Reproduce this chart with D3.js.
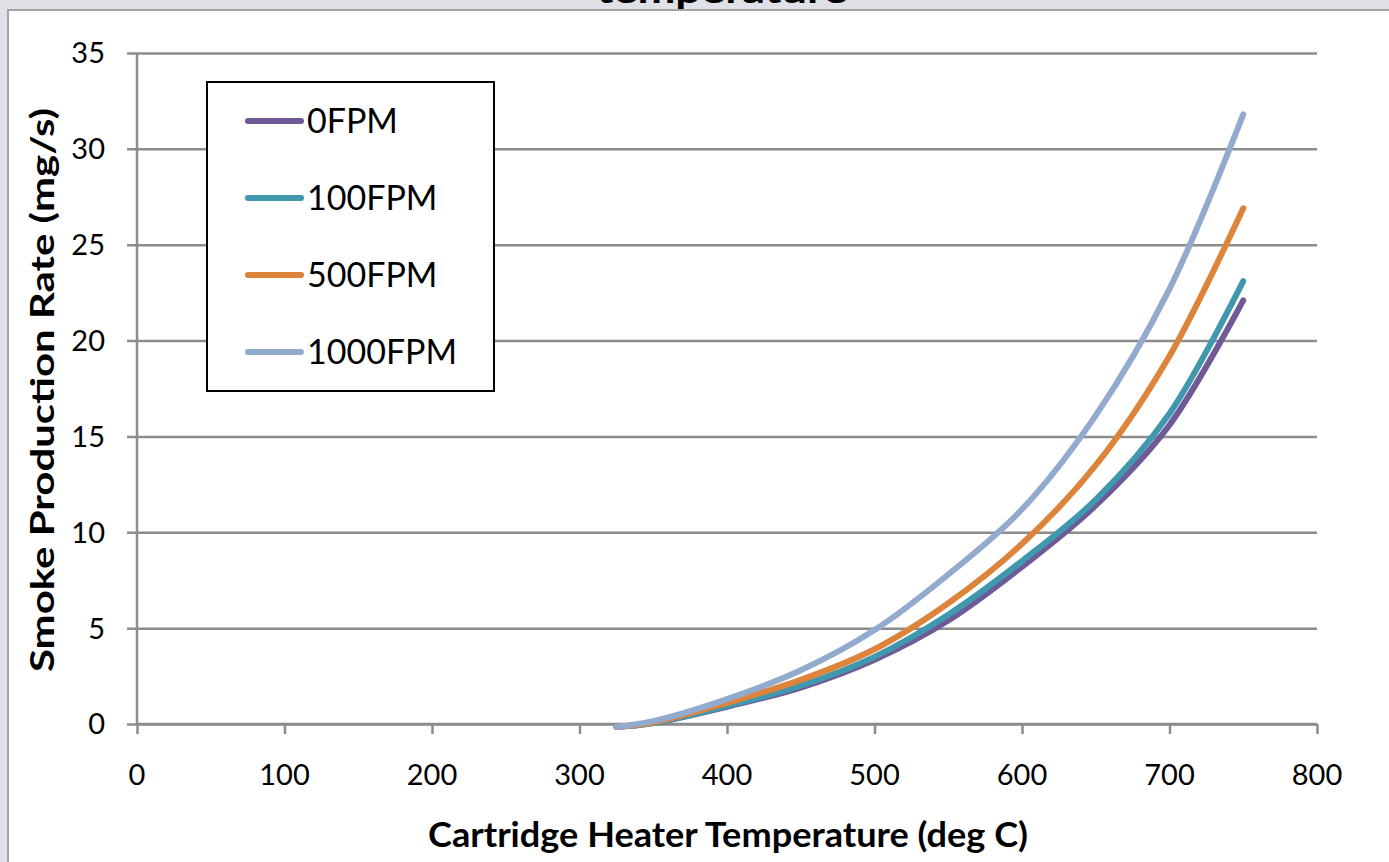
<!DOCTYPE html>
<html>
<head>
<meta charset="utf-8">
<script src="https://cdn.jsdelivr.net/npm/d3@7"></script>
<style>
  body { margin: 0; background: #dfe1e6; overflow: hidden; }
  svg { display: block; font-family: Lato, 'Open Sans', sans-serif; }
</style>
</head>
<body>
<div id="chart"></div>
<script>
// temperatures (deg C) and smoke rates (mg/s)
var temps = [325, 350, 400, 450, 500, 550, 600, 650, 700, 750]
var fpm0 = [-0.15, 0.05, 0.9, 1.9, 3.35, 5.4, 8.2, 11.4, 15.6, 22.1]
var fpm100 = [-0.15, 0.05, 0.95, 2.0, 3.5, 5.7, 8.5, 11.7, 16.2, 23.1]
var fpm500 = [-0.15, 0.08, 1.1, 2.3, 3.9, 6.3, 9.4, 13.5, 19.2, 26.9]
var fpm1000 = [-0.15, 0.15, 1.3, 2.8, 4.9, 7.8, 11.2, 16.1, 22.7, 31.8]
var series_names = ['0FPM', '100FPM', '500FPM', '1000FPM']
var series_colors = ['#6f5a97', '#3f98ae', '#de833a', '#93aacf']
var x_ticks = [0, 100, 200, 300, 400, 500, 600, 700, 800]
var y_ticks = [0, 5, 10, 15, 20, 25, 30, 35]

var w = 1389
var h = 862
var grid_color = '#8c8c8c'

var svg = d3.select('#chart').append('svg')
  .attr('width', w)
  .attr('height', h)

// frame
svg.append('rect')
  .attr('x', 8).attr('y', 10)
  .attr('width', w).attr('height', h)
  .attr('fill', 'white')
  .attr('stroke', '#a2a4a8')
  .attr('stroke-width', 2)

// title, only its last line peeks in at the top
svg.append('text').text('temperature')
  .attr('x', 722).attr('y', 3)
  .attr('text-anchor', 'middle')
  .attr('textLength', 251)
  .attr('lengthAdjust', 'spacingAndGlyphs')
  .style('font-weight', 'bold')
  .style('font-size', '34px')

var x = d3.scaleLinear().domain([0, 800]).range([137, 1317])
var y = d3.scaleLinear().domain([0, 35]).range([724, 53])

// horizontal gridlines
svg.append('g')
  .attr('transform', 'translate(' + x(0) + ',0)')
  .call(d3.axisLeft(y).tickValues(y_ticks).tickSize(-(x(800) - x(0))).tickFormat(''))
  .call(function (g) {
    g.select('.domain').remove()
    g.selectAll('line').attr('stroke', grid_color).attr('stroke-width', 2.5).attr('x1', -10)
  })

// y labels
y_ticks.forEach(function (t) {
  svg.append('text').text(t)
    .attr('x', 105)
    .attr('y', y(t))
    .attr('dy', '0.36em')
    .attr('text-anchor', 'end')
    .style('font-size', '29px')
})

// x axis
svg.append('g')
  .attr('transform', 'translate(0,' + y(0) + ')')
  .call(d3.axisBottom(x).tickValues(x_ticks).tickSize(10).tickFormat(''))
  .call(function (g) {
    g.select('.domain').attr('stroke', grid_color).attr('stroke-width', 2.5)
      .attr('d', 'M' + x(0) + ',0H' + x(800))
    g.selectAll('line').attr('stroke', grid_color).attr('stroke-width', 2.5)
  })

x_ticks.forEach(function (t) {
  svg.append('text').text(t)
    .attr('x', x(t))
    .attr('y', 775)
    .attr('dy', '0.36em')
    .attr('text-anchor', 'middle')
    .style('font-size', '29px')
})

// y axis line
svg.append('line')
  .attr('x1', x(0)).attr('x2', x(0))
  .attr('y1', y(35)).attr('y2', y(0))
  .attr('stroke', grid_color).attr('stroke-width', 2.5)

// axis titles
svg.append('text').text('Cartridge Heater Temperature (deg C)')
  .attr('x', 728).attr('y', 835)
  .attr('dy', '0.36em')
  .attr('text-anchor', 'middle')
  .attr('textLength', 600)
  .attr('lengthAdjust', 'spacingAndGlyphs')
  .style('font-weight', 'bold')
  .style('font-size', '34px')

svg.append('text').text('Smoke Production Rate (mg/s)')
  .attr('transform', 'translate(42,390) rotate(-90)')
  .attr('dy', '0.36em')
  .attr('text-anchor', 'middle')
  .attr('textLength', 564)
  .attr('lengthAdjust', 'spacingAndGlyphs')
  .style('font-weight', 'bold')
  .style('font-size', '33px')

// curves
var all_series = [fpm0, fpm100, fpm500, fpm1000]
var line = d3.line()
  .x(function (d) { return x(d[0]) })
  .y(function (d) { return y(d[1]) })
  .curve(d3.curveCatmullRom.alpha(0.5))

all_series.forEach(function (vals, idx) {
  var pts = temps.map(function (t, i) { return [t, vals[i]] })
  svg.append('path')
    .attr('d', line(pts))
    .attr('fill', 'none')
    .attr('stroke', series_colors[idx])
    .attr('stroke-width', 6)
    .attr('stroke-linecap', 'round')
})

// legend
var legend = svg.append('g')
legend.append('rect')
  .attr('x', 207).attr('y', 82)
  .attr('width', 287).attr('height', 309)
  .attr('fill', 'white')
  .attr('stroke', 'black')
  .attr('stroke-width', 2)

var legend_y = d3.scalePoint().domain(series_names).range([121, 352])
series_names.forEach(function (name, idx) {
  legend.append('line')
    .attr('x1', 248).attr('x2', 301)
    .attr('y1', legend_y(name)).attr('y2', legend_y(name))
    .attr('stroke', series_colors[idx])
    .attr('stroke-width', 6)
    .attr('stroke-linecap', 'round')
  legend.append('text').text(name)
    .attr('x', 307)
    .attr('y', legend_y(name))
    .attr('dy', '0.36em')
    .style('font-size', '34px')
})
</script>
</body>
</html>
